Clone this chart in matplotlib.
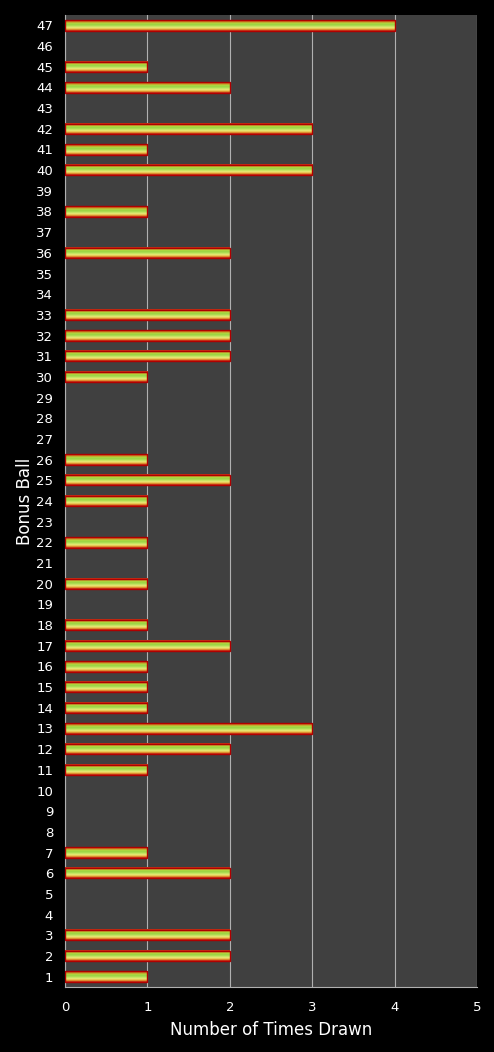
import matplotlib
matplotlib.use("Agg")
import matplotlib.pyplot as plt
import numpy as np
from matplotlib.colors import LinearSegmentedColormap

balls = list(range(1, 48))
counts = [1, 2, 2, 0, 0, 2, 1, 0, 0, 0,
          1, 2, 3, 1, 1, 1, 2, 1, 0, 1,
          0, 1, 0, 1, 2, 1, 0, 0, 0, 1,
          2, 2, 2, 0, 0, 2, 0, 1, 0, 3,
          1, 3, 0, 2, 1, 0, 4]
xticks = [0, 1, 2, 3, 4, 5]

fig = plt.figure(figsize=(4.94, 10.52), dpi=100, facecolor="black")
ax = fig.add_axes([65/494, 1 - 987/1052, (477-65)/494, (987-15)/1052])
ax.set_facecolor("#404040")

cmap = LinearSegmentedColormap.from_list(
    "barg", ["#c01010", "#e0a030", "#f0e878", "#c0e460", "#98d444", "#b0d840", "#d08020", "#c01010"])
grad = np.linspace(0, 1, 64).reshape(-1, 1)
h = 0.5
nz_b = [b for b, c in zip(balls, counts) if c > 0]
nz_c = [c for c in counts if c > 0]
for b, c in zip(nz_b, nz_c):
    ax.imshow(grad, extent=[0, c, b + h/2, b - h/2], aspect="auto", cmap=cmap,
              interpolation="bilinear", zorder=3)
ax.barh(nz_b, nz_c, height=h, facecolor="none", edgecolor="#b00000", linewidth=1.0, zorder=4)

ax.set_xlim(0, 5)
ax.set_ylim(0.5, 47.5)
ax.set_yticks(balls)
ax.set_yticklabels([str(b) for b in balls])
ax.set_xticks(xticks)
ax.grid(axis="x", color="#b0b0b0", linewidth=0.8, zorder=1)
ax.set_axisbelow(True)
for s in ["top", "right"]:
    ax.spines[s].set_visible(False)
for s in ["left", "bottom"]:
    ax.spines[s].set_color("#b0b0b0")
    ax.spines[s].set_linewidth(0.8)
ax.tick_params(colors="white", labelsize=9.5, length=0)
ax.tick_params(axis="y", pad=8.5)
ax.tick_params(axis="x", pad=10)
ax.set_xlabel("Number of Times Drawn", color="white", fontsize=12, labelpad=5)
ax.set_ylabel("Bonus Ball", color="white", fontsize=12)
ax.yaxis.set_label_coords(-31/412, 0.5)

fig.savefig("out.png", dpi=100, facecolor="black")
